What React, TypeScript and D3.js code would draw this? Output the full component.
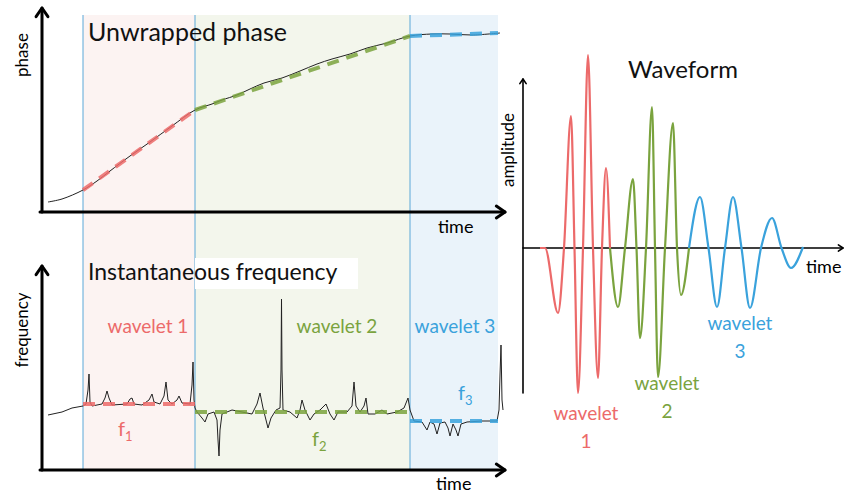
import React from "react";
import * as d3 from "d3";

// segment boundaries (time units, shared by both left panels)
const bounds = [41, 153, 368, 456];
const segColors = ["#ec6a6a", "#7aa33e", "#3aa2dc"];
const segFills = ["#fcf3f2", "#f3f6ec", "#eaf3fa"];

// unwrapped phase (time, phase)
const phase: [number, number][] = [
  [6, 10], [20, 13], [41, 22], [55, 31], [68, 41], [88, 56], [108, 70], [130, 86], [153, 102],
  [170, 108], [180, 112], [195, 117], [208, 123], [222, 129], [240, 134], [258, 141], [275, 148],
  [290, 153], [308, 158], [325, 164], [345, 169], [368, 176], [390, 178], [408, 178], [430, 177], [458, 179],
];
const phaseFit: [number, number][][] = [
  [[41, 22], [153, 102]],
  [[153, 102], [368, 176]],
  [[368, 176], [456, 179]],
];

// instantaneous frequency (time, freq)
const freq: [number, number][] = [
  [6, 55], [20, 58], [30, 62], [41, 64], [44, 66], [46, 80], [47, 96], [48, 68], [50, 64], [60, 66],
  [63, 72], [65, 79], [67, 72], [70, 65], [85, 66], [88, 71], [90, 72], [92, 66], [100, 65],
  [107, 70], [110, 76], [112, 68], [118, 66], [122, 74], [124, 88], [126, 70], [130, 66],
  [135, 70], [137, 74], [140, 67], [148, 66], [150, 85], [151, 108], [152, 70], [153, 62],
  [155, 58], [160, 52], [163, 48], [166, 56], [172, 58], [175, 50], [176, 30], [177, 14],
  [178, 40], [180, 56], [190, 60], [200, 58], [210, 56], [215, 66], [218, 77], [221, 62],
  [224, 50], [226, 42], [229, 52], [234, 60], [238, 62], [239, 100], [239.5, 171], [240, 100],
  [241, 60], [248, 58], [255, 52], [258, 60], [260, 70], [263, 60], [268, 50], [272, 56],
  [278, 60], [284, 66], [288, 56], [292, 50], [296, 58], [305, 58], [310, 64], [312, 88],
  [314, 64], [318, 58], [322, 64], [324, 72], [326, 56], [333, 56], [340, 60], [345, 56],
  [355, 58], [362, 62], [366, 72], [368, 60], [372, 49], [380, 48], [385, 40], [388, 48],
  [392, 46], [395, 36], [398, 47], [403, 48], [406, 42], [408, 34], [411, 46], [414, 40],
  [416, 34], [419, 46], [425, 48], [440, 49], [455, 49], [457, 60], [458, 95], [459, 125],
  [460, 70], [461, 60],
];
const freqLevels = [66, 58, 49];

// waveform (time, amplitude), one array per wavelet
const wave1: [number, number][] = [
  [17, 0], [22, 0], [35, -65], [41, 0], [48, 132], [51.5, 0], [55, -145], [60, 0],
  [65, 193], [70, 0], [75, -130], [79, 0], [83, 80], [87, 0],
];
const wave2: [number, number][] = [
  [87, 0], [95, -59], [102, 0], [110, 69], [113.5, 0], [117, -90], [123, 0], [129, 141],
  [132, 0], [135, -129], [142, 0], [150, 125], [154, 0], [158, -47], [166, 0],
];
const wave3: [number, number][] = [
  [166, 0], [177, 51], [185.5, 0], [194, -59], [202, 0], [210, 51], [218.5, 0], [227, -60],
  [238, 0], [249, 30], [258.5, 0], [268, -20], [280, 1],
];

const font = "Lato, 'Open Sans', sans-serif";

const Arrow = ({ x1, y1, x2, y2, w }: { x1: number; y1: number; x2: number; y2: number; w: number }) => {
  const a = Math.atan2(y2 - y1, x2 - x1);
  const s = w * 3.5;
  const p1 = [x2 - s * Math.cos(a - 0.6), y2 - s * Math.sin(a - 0.6)];
  const p2 = [x2 - s * Math.cos(a + 0.6), y2 - s * Math.sin(a + 0.6)];
  return (
    <g stroke="#000" strokeWidth={w} fill="none" strokeLinecap="round" strokeLinejoin="round">
      <line x1={x1} y1={y1} x2={x2} y2={y2} />
      <polyline points={`${p1[0]},${p1[1]} ${x2},${y2} ${p2[0]},${p2[1]}`} />
    </g>
  );
};

export default function App() {
  const x = d3.scaleLinear().domain([0, 463]).range([42, 505]);
  const yP = d3.scaleLinear().domain([0, 200]).range([212, 12]);
  const yF = d3.scaleLinear().domain([0, 205]).range([470, 265]);
  const xW = d3.scaleLinear().domain([0, 300]).range([523, 823]);
  const yW = d3.scaleLinear().domain([-200, 200]).range([448, 48]);

  const phaseLine = d3.line<[number, number]>().x((d) => x(d[0])).y((d) => yP(d[1])).curve(d3.curveCatmullRom);
  const straightP = d3.line<[number, number]>().x((d) => x(d[0])).y((d) => yP(d[1]));
  const freqLine = d3.line<[number, number]>().x((d) => x(d[0])).y((d) => yF(d[1]));
  const waveLine = d3.line<[number, number]>().x((d) => xW(d[0])).y((d) => yW(d[1])).curve(d3.curveMonotoneX);

  return (
    <svg width={845} height={495} style={{ position: "absolute", left: 0, top: 0 }}>
      <rect width={845} height={495} fill="#fff" />
      {segFills.map((c, i) => (
        <rect key={i} x={x(bounds[i])} y={15} width={x(bounds[i + 1]) - x(bounds[i])} height={455} fill={c} />
      ))}
      {bounds.slice(0, 3).map((b, i) => (
        <line key={i} x1={x(b)} x2={x(b)} y1={15} y2={470} stroke="#5aa8d8" strokeWidth={1} />
      ))}

      {/* phase panel */}
      <path d={phaseLine(phase) || ""} fill="none" stroke="#222" strokeWidth={1} />
      {phaseFit.map((seg, i) => (
        <path key={i} d={straightP(seg) || ""} stroke={segColors[i]} strokeWidth={4} strokeDasharray="12 8" fill="none" opacity={0.85} />
      ))}
      <Arrow x1={42} y1={212} x2={42} y2={8} w={3} />
      <Arrow x1={40} y1={212} x2={505} y2={212} w={3} />
      <text x={88} y={41} fontFamily={font} fontSize={25} fill="#111">Unwrapped phase</text>
      <text transform="translate(28,55) rotate(-90)" textAnchor="middle" fontFamily={font} fontSize={17}>phase</text>
      <text x={438} y={233} fontFamily={font} fontSize={18}>time</text>

      {/* frequency panel */}
      <rect x={195} y={258} width={163} height={31} fill="#fff" />
      <path d={freqLine(freq) || ""} fill="none" stroke="#222" strokeWidth={1} />
      {freqLevels.map((v, i) => (
        <path key={i} d={freqLine([[bounds[i], v], [bounds[i + 1], v]]) || ""} stroke={segColors[i]} strokeWidth={4} strokeDasharray="12 8" fill="none" opacity={0.85} />
      ))}
      <Arrow x1={42} y1={470} x2={42} y2={266} w={3} />
      <Arrow x1={40} y1={470} x2={505} y2={470} w={3} />
      <text x={88} y={280} fontFamily={font} fontSize={23} fill="#111">Instantaneous frequency</text>
      <text transform="translate(28,330) rotate(-90)" textAnchor="middle" fontFamily={font} fontSize={17}>frequency</text>
      <text x={436} y={490} fontFamily={font} fontSize={18}>time</text>
      {["wavelet 1", "wavelet 2", "wavelet 3"].map((t, i) => (
        <text key={t} x={[148, 337, 455][i]} y={333} textAnchor="middle" fontFamily={font} fontSize={19} fill={segColors[i]}>{t}</text>
      ))}
      {[[118, 436], [312, 446], [458, 400]].map(([tx, ty], i) => (
        <text key={i} x={tx} y={ty} fontFamily={font} fontSize={20} fill={segColors[i]}>
          f<tspan fontSize={13} dy={5}>{i + 1}</tspan>
        </text>
      ))}

      {/* waveform panel */}
      <Arrow x1={523} y1={393} x2={523} y2={79} w={1.6} />
      <Arrow x1={523} y1={248} x2={843} y2={248} w={1.6} />
      {[wave1, wave2, wave3].map((w, i) => (
        <path key={i} d={waveLine(w) || ""} fill="none" stroke={segColors[i]} strokeWidth={2.2} />
      ))}
      <text x={683} y={78} textAnchor="middle" fontFamily={font} fontSize={24} fill="#111">Waveform</text>
      <text transform="translate(514,150) rotate(-90)" textAnchor="middle" fontFamily={font} fontSize={17}>amplitude</text>
      <text x={806} y={273} fontFamily={font} fontSize={18}>time</text>
      {[[586, 420], [667, 390], [740, 330]].map(([tx, ty], i) => (
        <text key={i} textAnchor="middle" fontFamily={font} fontSize={19} fill={segColors[i]}>
          <tspan x={tx} y={ty}>wavelet</tspan>
          <tspan x={tx} y={ty + 28}>{i + 1}</tspan>
        </text>
      ))}
    </svg>
  );
}
